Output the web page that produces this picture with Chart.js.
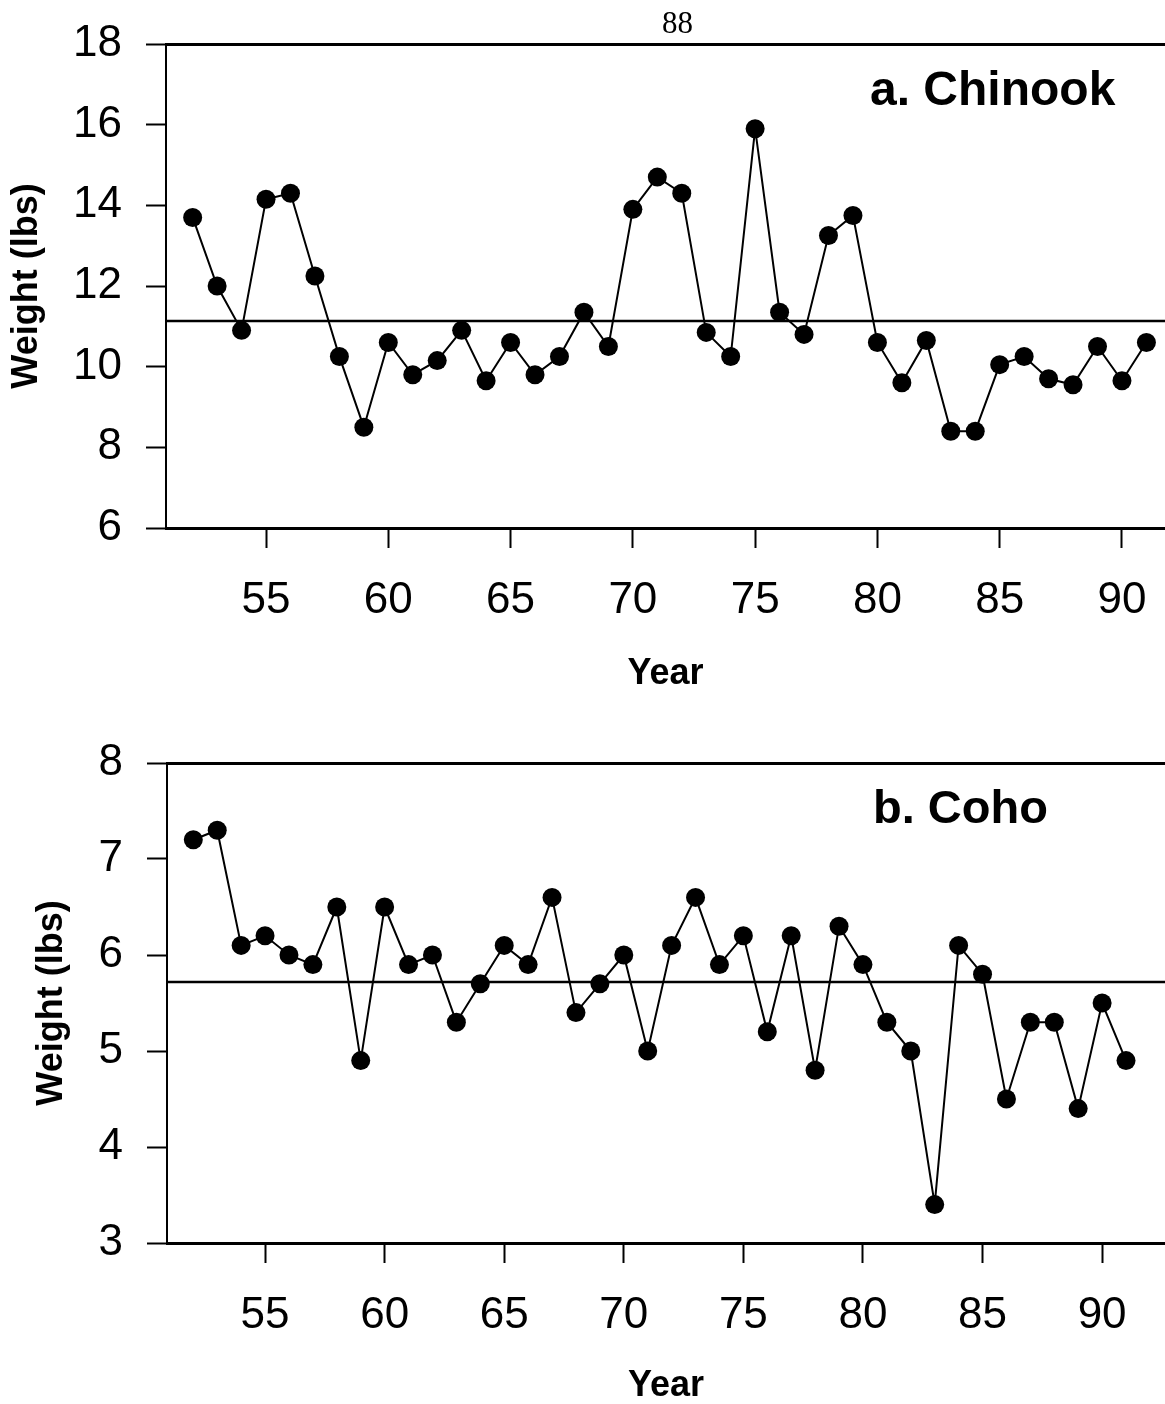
<!DOCTYPE html>
<html>
<head>
<meta charset="utf-8">
<script src="https://cdn.jsdelivr.net/npm/chart.js@4/dist/chart.umd.min.js"></script>
<style>
html,body{margin:0;padding:0;background:#fff;width:1165px;height:1404px;overflow:hidden;}
canvas{position:absolute;left:0;}
.lbl{position:absolute;font-family:"Liberation Sans",Arial,sans-serif;font-weight:bold;line-height:1;white-space:nowrap;color:#000;}
#pg{position:absolute;font-family:"Liberation Serif","Times New Roman",serif;font-size:31px;line-height:1;color:#000;left:662px;top:7px;}
</style>
</head>
<body>
<canvas id="c1" width="1165" height="700" style="top:0px"></canvas>
<canvas id="c2" width="1165" height="704" style="top:700px"></canvas>
<div id="pg">88</div>
<div class="lbl" style="left:870px;top:65px;font-size:48px;">a. Chinook</div>
<div class="lbl" style="left:873px;top:783px;font-size:47px;">b. Coho</div>
<script>
// ---- data ----
const years = [52,53,54,55,56,57,58,59,60,61,62,63,64,65,66,67,68,69,70,71,72,73,74,75,76,77,78,79,80,81,82,83,84,85,86,87,88,89,90,91];
const chinookWeight = [13.7,12.0,10.9,14.15,14.3,12.25,10.25,8.5,10.6,9.8,10.15,10.9,9.65,10.6,9.8,10.25,11.35,10.5,13.9,14.7,14.3,10.85,10.25,15.9,11.35,10.8,13.25,13.75,10.6,9.6,10.65,8.4,8.4,10.05,10.25,9.7,9.55,10.5,9.65,10.6];
const cohoWeight = [7.2,7.3,6.1,6.2,6.0,5.9,6.5,4.9,6.5,5.9,6.0,5.3,5.7,6.1,5.9,6.6,5.4,5.7,6.0,5.0,6.1,6.6,5.9,6.2,5.2,6.2,4.8,6.3,5.9,5.3,5.0,3.4,6.1,5.8,4.5,5.3,5.3,4.4,5.5,4.9];
const chinookMean = [11.13];
const cohoMean = [5.72];
const yearTicks = [55,60,65,70,75,80,85,90];
const chinookTicks = [6,8,10,12,14,16,18];
const cohoTicks = [3,4,5,6,7,8];

const FONT = "'Liberation Sans', Arial, Helvetica, sans-serif";
Chart.defaults.font.family = FONT;
Chart.defaults.color = '#000';

function noPad(s) { s.paddingLeft = 0; s.paddingRight = 0; s.paddingTop = 0; s.paddingBottom = 0; }

function build(id, values, mean, yTicks, p) {
  const pts = years.map((yr, i) => ({x: yr, y: values[i]}));
  return new Chart(document.getElementById(id), {
    type: 'line',
    data: {
      datasets: [
        {data: pts, borderColor: '#000', borderWidth: 2, pointRadius: 9.5, pointHoverRadius: 9.5,
         pointBackgroundColor: '#000', pointBorderWidth: 0, tension: 0, clip: false},
        {data: [{x: p.xMin, y: mean[0]}, {x: p.xMax, y: mean[0]}], borderColor: '#000',
         borderWidth: 2.5, pointRadius: 0, tension: 0}
      ]
    },
    options: {
      responsive: false, animation: false, events: [],
      layout: {autoPadding: false, padding: {top: p.top, left: 0, right: 0, bottom: 0}},
      plugins: {legend: {display: false}, tooltip: {enabled: false}},
      scales: {
        x: {
          type: 'linear', position: 'bottom', min: p.xMin, max: p.xMax,
          afterBuildTicks: s => { s.ticks = yearTicks.map(v => ({value: v})); },
          afterFit: s => { s.height = p.xAxisH; noPad(s); },
          ticks: {color: '#000', font: {size: 44}, padding: p.xPad, maxRotation: 0, autoSkip: false,
                  callback: v => String(v)},
          grid: {drawOnChartArea: false, drawTicks: true, tickLength: 20, tickWidth: 2, tickColor: '#000'},
          border: {display: true, color: '#000', width: 3},
          title: {display: true, text: 'Year', color: '#000',
                  font: {size: 36, weight: 'bold', lineHeight: 1}, padding: {top: 0, bottom: p.yearPad}}
        },
        xTop: {
          type: 'linear', position: 'top', min: p.xMin, max: p.xMax,
          afterFit: s => { s.height = 0; noPad(s); },
          ticks: {display: false},
          grid: {drawOnChartArea: false, drawTicks: false},
          border: {display: true, color: '#000', width: 3}
        },
        y: {
          min: yTicks[0], max: yTicks[yTicks.length - 1],
          afterBuildTicks: s => { s.ticks = yTicks.map(v => ({value: v})); },
          afterFit: s => { s.width = p.yAxisW; noPad(s); },
          ticks: {color: '#000', font: {size: 44}, padding: p.yPad, callback: v => String(v)},
          grid: {drawOnChartArea: false, drawTicks: true, tickLength: 20, tickWidth: 2, tickColor: '#000'},
          border: {display: true, color: '#000', width: 2},
          title: {display: true, text: 'Weight (lbs)', color: '#000',
                  font: {size: 36, weight: 'bold', lineHeight: 1}, padding: {top: p.yTitlePad, bottom: 0}}
        }
      }
    }
  });
}

build('c1', chinookWeight, chinookMean, chinookTicks,
  {xMin: 50.91, xMax: 91.76, top: 44, xAxisH: 172, xPad: 26, yearPad: 8, yAxisW: 166, yPad: 24, yTitlePad: 9});
build('c2', cohoWeight, cohoMean, cohoTicks,
  {xMin: 50.90, xMax: 92.63, top: 63, xAxisH: 161, xPad: 26, yearPad: 0, yAxisW: 167, yPad: 24, yTitlePad: 34});
</script>
</body>
</html>
